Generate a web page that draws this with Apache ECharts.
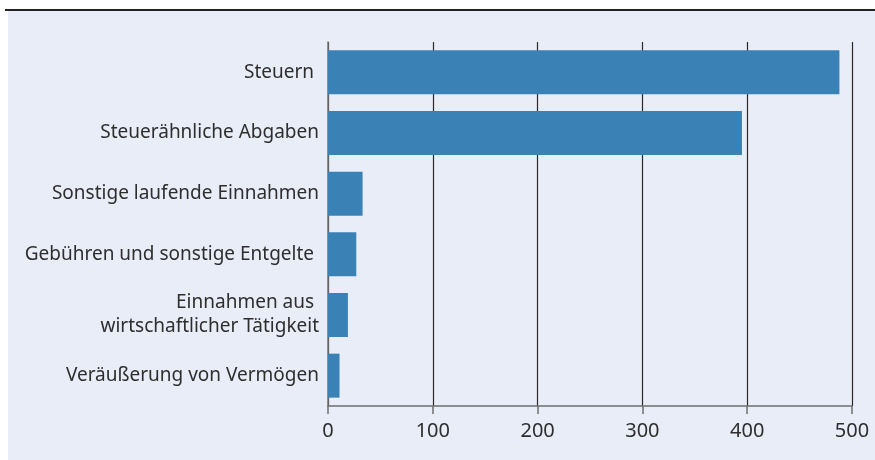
<!DOCTYPE html>
<html><head><meta charset="utf-8">
<script src="https://cdn.jsdelivr.net/npm/echarts@6/dist/echarts.min.js"></script>
<style>html,body{margin:0;padding:0;background:#fff}#c{width:875px;height:460px}</style>
</head><body><div id="c"></div>
<script>
const categories = ["Steuern ", "Steuerähnliche Abgaben", "Sonstige laufende Einnahmen", "Gebühren und sonstige Entgelte ", "Einnahmen aus \nwirtschaftlicher Tätigkeit", "Veräußerung von Vermögen"];
const values = [488, 395, 33, 27, 19, 11];
const xTicks = [0, 100, 200, 300, 400, 500];

const chart = echarts.init(document.getElementById('c'), null, {renderer: 'canvas'});
chart.setOption({
  animation: false,
  backgroundColor: '#ffffff',
  graphic: [
    {type: 'rect', left: 8, top: 11, shape: {width: 867, height: 449}, style: {fill: '#e9edf8'}, z: -10},
    {type: 'line', shape: {x1: 5, y1: 10, x2: 875, y2: 10}, style: {stroke: '#222', lineWidth: 2}, z: 10}
  ],
  grid: {left: 328, right: 23, top: 42, bottom: 54, containLabel: false},
  xAxis: {
    type: 'value', min: xTicks[0], max: xTicks[xTicks.length - 1], interval: 100,
    axisLine: {show: true, lineStyle: {color: '#6e6e6e', width: 1.5}},
    axisTick: {show: true, length: 8, lineStyle: {color: '#6e6e6e', width: 1.5}},
    splitLine: {show: true, lineStyle: {color: '#2a2a2a', width: 1.2}},
    axisLabel: {color: '#2e2e2e', fontSize: 20, fontFamily: 'Noto Sans', margin: 15}
  },
  yAxis: {
    type: 'category', data: categories, inverse: true,
    axisLine: {show: true, lineStyle: {color: '#777', width: 1.5}},
    axisTick: {show: false},
    axisLabel: {color: '#2e2e2e', fontSize: 19, fontFamily: 'Noto Sans', margin: 9, lineHeight: 24, align: 'right'}
  },
  series: [{
    type: 'bar', data: values, barWidth: 44,
    itemStyle: {color: '#3a82b6'}
  }]
});
</script></body></html>
